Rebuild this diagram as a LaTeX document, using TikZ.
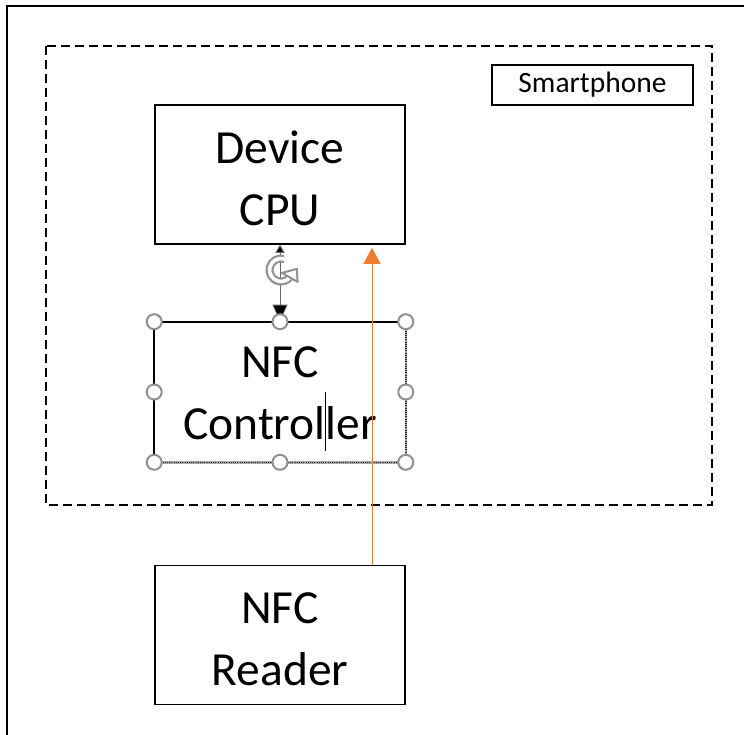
\documentclass[tikz,border=0pt]{standalone}
\usepackage{fontspec}
\setmainfont{Carlito}
\usetikzlibrary{arrows.meta,calc}
\definecolor{officeorange}{RGB}{237,125,49}
\definecolor{handlegray}{RGB}{145,145,145}
\tikzset{
  blockbox/.style={draw=black, line width=1.6pt, minimum width=250pt, minimum height=139pt, inner sep=0pt},
  blocktext/.style={inner sep=0pt, align=center, font=\fontsize{47.5}{62}\selectfont},
  tagbox/.style={draw=black, line width=1.4pt, minimum width=201pt, minimum height=40pt,
    inner sep=0pt, font=\fontsize{29.5}{30}\selectfont},
  handle/.style={circle, draw=handlegray, fill=white, line width=2pt, minimum size=15pt, inner sep=0pt},
  linkarrow/.style={draw=black!60, line width=0.8pt,
    {Triangle[length=8pt,width=9pt,fill=black]}-{Triangle[length=17pt,width=15pt,fill=black]}},
  signalarrow/.style={draw=officeorange, line width=1pt, -{Triangle[length=16pt,width=17pt]}},
}
\begin{document}
\begin{tikzpicture}[x=1pt, y=-1pt]
  \useasboundingbox (0,0) rectangle (744,735);
  % page frame (continues past the right and bottom edges)
  \draw[line width=1.5pt] (7,740) -- (7,6) -- (750,6);
  % smartphone enclosure
  \draw[line width=2pt, dash pattern=on 9pt off 5pt] (46,46) rectangle (712,505);
  \node[tagbox] (phone) at (592.5,85) {Smartphone};
  % blocks
  \node[blockbox] (cpu) at (280,174.5) {};
  \node[blocktext] (cpu-text) at ([yshift=-4pt]cpu.center) {Device\\CPU};
  \node[blockbox, draw=none] (ctrl) at (280,392) {};
  \node[blocktext] (ctrl-text) at ([yshift=-7pt]ctrl.center)
    {NFC\\Control\rlap{\kern-0.5pt\rule[-12pt]{1pt}{59pt}}ler};
  \node[blockbox] (reader) at (280,635) {};
  \node[blocktext] (reader-text) at ([yshift=-4pt]reader.center) {NFC\\Reader};
  % controller outline: solid top/left, dotted selection frame right/bottom
  \draw[line width=1.6pt] (ctrl.south west) -- (ctrl.north west) -- (ctrl.north east);
  \draw[line width=2.4pt, black!35] (ctrl.north east) -- (ctrl.south east) -- (ctrl.south west);
  \draw[line width=1.6pt, black!85, dash pattern=on 1pt off 1.2pt] (ctrl.north east) -- (ctrl.south east) -- (ctrl.south west);
  % link between CPU and controller
  \draw[linkarrow] (cpu.south) -- (ctrl.north);
  % rotation handle: outlined circular arrow
  \coordinate (rot) at (281,270);
  \draw[handlegray, line width=8pt] ([shift={(75:11.5pt)}]rot) arc[start angle=75, end angle=320, radius=11.5pt];
  \draw[white, line width=3.6pt] ([shift={(75:11.5pt)}]rot) arc[start angle=75, end angle=320, radius=11.5pt];
  \begin{scope}[shift={(rot)}, y=1pt]
    \draw[handlegray, fill=white, line width=2pt, line join=round]
      ($(320:11.5pt)+(-30:9pt)$) -- ($(320:11.5pt)+(50:11pt)$) -- ($(320:11.5pt)+(150:9pt)$) -- cycle;
  \end{scope}
  % selection handles
  \foreach \a in {north west, north, north east, east, south east, south, south west, west}
    \node[handle] at (ctrl.\a) {};
  % reader signal into the CPU
  \coordinate (ox) at (372,0);
  \draw[signalarrow] (ox |- reader.north) -- ([yshift=-3pt]ox |- cpu.south);
\end{tikzpicture}
\end{document}
